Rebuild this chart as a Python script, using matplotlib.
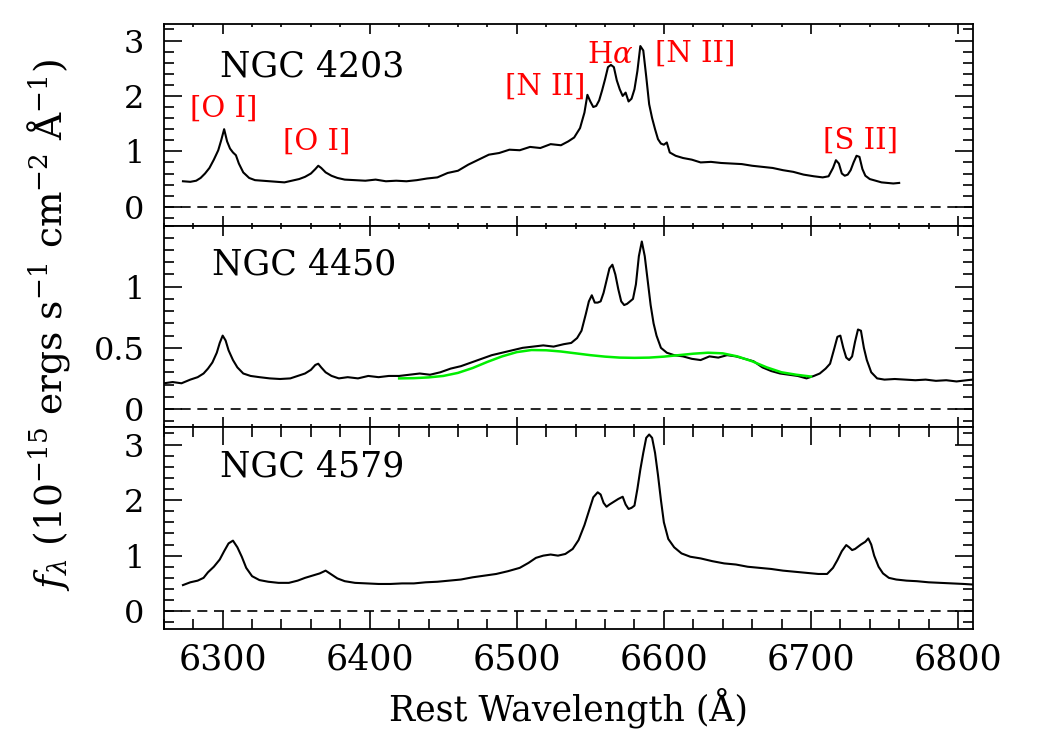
import matplotlib
matplotlib.use("Agg")
import matplotlib.pyplot as plt
from matplotlib.ticker import MultipleLocator, FixedLocator, FuncFormatter

plt.rcParams['font.family'] = 'DejaVu Serif'
plt.rcParams['mathtext.fontset'] = 'dejavuserif'

# NGC 4203 (top panel)
wl_4203 = [6273, 6278, 6282, 6285, 6288, 6291, 6294, 6297, 6299, 6301, 6303, 6305, 6307, 6309,
           6311, 6314, 6318, 6322, 6327, 6332, 6337, 6342, 6347, 6352, 6356, 6360, 6363, 6365,
           6367, 6370, 6374, 6378, 6383, 6390, 6397, 6404, 6411, 6418, 6425, 6432, 6439, 6446,
           6453, 6460, 6467, 6474, 6481, 6488, 6495, 6502, 6509, 6516, 6523, 6530, 6535, 6539,
           6543, 6546, 6548, 6550, 6552, 6554, 6556, 6558, 6560, 6562, 6564, 6566, 6568, 6570,
           6572, 6574, 6576, 6578, 6580, 6582, 6584, 6586, 6588, 6590, 6592, 6594, 6596, 6598,
           6600, 6602, 6604, 6608, 6613, 6619, 6625, 6632, 6639, 6646, 6653, 6660, 6667, 6674,
           6681, 6688, 6695, 6702, 6708, 6712, 6715, 6717, 6719, 6721, 6723, 6725, 6727, 6729,
           6731, 6733, 6735, 6737, 6740, 6744, 6748, 6752, 6756, 6760]
fx_4203 = [0.46, 0.45, 0.47, 0.52, 0.60, 0.70, 0.85, 1.02, 1.20, 1.40, 1.18, 1.05, 0.98, 0.93,
           0.78, 0.62, 0.52, 0.48, 0.47, 0.46, 0.45, 0.44, 0.47, 0.50, 0.54, 0.60, 0.68, 0.74,
           0.70, 0.62, 0.56, 0.52, 0.49, 0.48, 0.47, 0.49, 0.46, 0.47, 0.46, 0.48, 0.51, 0.53,
           0.61, 0.65, 0.76, 0.85, 0.94, 0.97, 1.03, 1.02, 1.08, 1.06, 1.13, 1.11, 1.18, 1.25,
           1.42, 1.70, 2.02, 1.90, 1.80, 1.82, 1.92, 2.10, 2.30, 2.52, 2.56, 2.52, 2.28, 2.12,
           2.00, 2.06, 1.90, 1.95, 2.12, 2.45, 2.90, 2.82, 2.35, 1.85, 1.60, 1.40, 1.22, 1.14,
           1.12, 1.16, 0.98, 0.92, 0.88, 0.85, 0.80, 0.81, 0.79, 0.78, 0.77, 0.74, 0.72, 0.70,
           0.66, 0.63, 0.58, 0.55, 0.53, 0.55, 0.70, 0.84, 0.78, 0.60, 0.56, 0.58, 0.66, 0.80,
           0.92, 0.90, 0.68, 0.56, 0.50, 0.47, 0.44, 0.43, 0.42, 0.43]

# NGC 4450 (middle panel)
wl_4450 = [6260, 6266, 6272, 6278, 6283, 6287, 6290, 6293, 6296, 6298, 6300, 6302, 6304, 6307,
           6310, 6314, 6319, 6325, 6332, 6339, 6346, 6351, 6356, 6360, 6363, 6365, 6367, 6370,
           6374, 6379, 6385, 6392, 6399, 6406, 6413, 6420, 6427, 6434, 6441, 6448, 6455, 6462,
           6469, 6476, 6483, 6490, 6497, 6504, 6511, 6518, 6525, 6532, 6537, 6541, 6544, 6547,
           6549, 6551, 6553, 6555, 6557, 6559, 6561, 6563, 6565, 6567, 6569, 6571, 6573, 6575,
           6577, 6579, 6581, 6583, 6585, 6587, 6589, 6591, 6593, 6595, 6598, 6602, 6607, 6613,
           6619, 6625, 6631, 6637, 6643, 6649, 6655, 6661, 6667, 6673, 6679, 6685, 6691, 6697,
           6702, 6706, 6710, 6713, 6716, 6718, 6720, 6722, 6724, 6726, 6728, 6730, 6732, 6734,
           6736, 6738, 6741, 6745, 6750, 6757, 6764, 6771, 6778, 6785, 6792, 6799, 6806, 6810]
fx_4450 = [0.21, 0.22, 0.21, 0.24, 0.26, 0.29, 0.33, 0.38, 0.46, 0.54, 0.60, 0.56, 0.48, 0.40,
           0.34, 0.29, 0.27, 0.26, 0.25, 0.245, 0.25, 0.27, 0.29, 0.32, 0.36, 0.37, 0.34, 0.30,
           0.27, 0.25, 0.26, 0.25, 0.27, 0.26, 0.27, 0.27, 0.28, 0.29, 0.28, 0.30, 0.33, 0.35,
           0.38, 0.41, 0.44, 0.46, 0.48, 0.50, 0.51, 0.52, 0.51, 0.53, 0.54, 0.58, 0.64, 0.78,
           0.88, 0.93, 0.87, 0.87, 0.88, 0.95, 1.05, 1.15, 1.18, 1.10, 0.98, 0.88, 0.85, 0.86,
           0.88, 0.90, 1.02, 1.25, 1.37, 1.25, 1.05, 0.85, 0.70, 0.60, 0.50, 0.46, 0.44, 0.43,
           0.41, 0.40, 0.43, 0.42, 0.44, 0.43, 0.41, 0.39, 0.34, 0.31, 0.29, 0.28, 0.27, 0.25,
           0.27, 0.29, 0.33, 0.37, 0.50, 0.59, 0.60, 0.50, 0.42, 0.40, 0.43, 0.55, 0.65, 0.64,
           0.50, 0.40, 0.30, 0.25, 0.24, 0.245, 0.24, 0.235, 0.24, 0.23, 0.235, 0.225, 0.235, 0.24]

# continuum fit for NGC 4450 (green)
wl_fit = [6420, 6430, 6440, 6450, 6460, 6470, 6480, 6490, 6500, 6510, 6520, 6530, 6540, 6550,
          6560, 6570, 6580, 6590, 6600, 6610, 6620, 6630, 6640, 6650, 6660, 6670, 6680, 6690, 6700]
fx_fit = [0.25, 0.252, 0.258, 0.27, 0.295, 0.335, 0.385, 0.43, 0.465, 0.482, 0.48, 0.47, 0.455, 0.44,
          0.428, 0.42, 0.418, 0.42, 0.428, 0.44, 0.452, 0.46, 0.455, 0.43, 0.39, 0.34, 0.30, 0.28, 0.265]

# NGC 4579 (bottom panel)
wl_4579 = [6273, 6278, 6283, 6287, 6290, 6294, 6298, 6301, 6304, 6307, 6310, 6313, 6316, 6320,
           6325, 6331, 6338, 6345, 6351, 6356, 6361, 6366, 6370, 6374, 6378, 6383, 6390, 6398,
           6406, 6414, 6422, 6430, 6438, 6446, 6454, 6462, 6470, 6478, 6486, 6494, 6502, 6508,
           6513, 6518, 6523, 6528, 6533, 6538, 6542, 6546, 6549, 6552, 6555, 6557, 6559, 6561,
           6563, 6566, 6569, 6572, 6574, 6576, 6578, 6580, 6582, 6584, 6586, 6588, 6590, 6592,
           6594, 6596, 6598, 6600, 6603, 6607, 6612, 6618, 6625, 6633, 6641, 6649, 6657, 6665,
           6673, 6681, 6689, 6697, 6705, 6711, 6715, 6718, 6721, 6724, 6726, 6728, 6730, 6732,
           6734, 6737, 6739, 6741, 6743, 6746, 6749, 6753, 6758, 6765, 6772, 6780, 6788, 6796,
           6804, 6810]
fx_4579 = [0.47, 0.52, 0.55, 0.60, 0.70, 0.80, 0.93, 1.08, 1.22, 1.27, 1.15, 0.98, 0.78, 0.63,
           0.56, 0.53, 0.51, 0.51, 0.55, 0.60, 0.64, 0.68, 0.73, 0.66, 0.59, 0.54, 0.51, 0.50,
           0.49, 0.49, 0.50, 0.50, 0.52, 0.53, 0.55, 0.57, 0.61, 0.64, 0.67, 0.72, 0.78, 0.87,
           0.96, 1.00, 1.02, 1.00, 1.03, 1.12, 1.28, 1.55, 1.80, 2.05, 2.14, 2.10, 1.95, 1.88,
           1.92, 1.97, 2.02, 2.06, 1.92, 1.84, 1.86, 1.90, 2.20, 2.55, 2.85, 3.12, 3.18, 3.12,
           2.85, 2.45, 2.00, 1.60, 1.30, 1.15, 1.04, 0.98, 0.95, 0.90, 0.86, 0.84, 0.80, 0.78,
           0.76, 0.73, 0.71, 0.69, 0.67, 0.67, 0.78, 0.92, 1.08, 1.19, 1.15, 1.10, 1.12, 1.16,
           1.20, 1.25, 1.31, 1.20, 1.00, 0.80, 0.68, 0.60, 0.57, 0.55, 0.54, 0.52, 0.51, 0.50,
           0.49, 0.48]

galaxies = ['NGC 4203', 'NGC 4450', 'NGC 4579']
line_names = ['[O I]', '[O I]', '[N II]', r'H$\alpha$', '[N II]', '[S II]']
line_x = [6278, 6341, 6492, 6548, 6594, 6708]
line_y = [1.63, 1.03, 2.02, 2.60, 2.62, 1.05]


def setup(ax, ylim, yticks, ymin, bottom):
    ax.set_xlim(6260, 6810)
    ax.set_ylim(*ylim)
    ax.axhline(0, color='black', ls=(0, (6, 4)), lw=1.2)
    ax.yaxis.set_major_locator(FixedLocator(yticks))
    ax.yaxis.set_minor_locator(MultipleLocator(ymin))
    ax.yaxis.set_major_formatter(FuncFormatter(lambda v, p: '%g' % v))
    if bottom:
        ax.xaxis.set_major_locator(MultipleLocator(100))
        ax.xaxis.set_minor_locator(MultipleLocator(20))
    else:
        ax.xaxis.set_major_locator(MultipleLocator(50))
        ax.xaxis.set_minor_locator(MultipleLocator(50))
    ax.tick_params(which='both', direction='in', top=True, right=True, width=1.2)
    ax.tick_params(axis='y', which='major', length=13, labelsize=23, pad=14)
    ax.tick_params(axis='y', which='minor', length=7)
    if bottom:
        ax.tick_params(axis='x', which='major', length=13, labelsize=25, pad=10)
        ax.tick_params(axis='x', which='minor', length=7)
    else:
        ax.tick_params(axis='x', which='major', length=7, labelbottom=False)
    for s in ax.spines.values():
        s.set_linewidth(1.3)


fig, axes = plt.subplots(3, 1, figsize=(10.37, 7.47), dpi=100, sharex=True)
fig.subplots_adjust(left=0.158, right=0.938, bottom=0.158, top=0.968, hspace=0)

ax1, ax2, ax3 = axes
setup(ax1, (-0.34, 3.3), [0, 1, 2, 3], 0.2, False)
setup(ax2, (-0.15, 1.5), [0, 0.5, 1], 0.1, False)
setup(ax3, (-0.32, 3.31), [0, 1, 2, 3], 0.2, True)

ax1.plot(wl_4203, fx_4203, color='black', lw=1.5)
ax2.plot(wl_4450, fx_4450, color='black', lw=1.5)
ax2.plot(wl_fit, fx_fit, color='#00ee00', lw=1.8)
ax3.plot(wl_4579, fx_4579, color='black', lw=1.5)

ax1.text(6298, 2.35, galaxies[0], fontsize=25)
ax2.text(6293, 1.10, galaxies[1], fontsize=25)
ax3.text(6298, 2.42, galaxies[2], fontsize=25)

for name, x, y in zip(line_names, line_x, line_y):
    ax1.text(x, y, name, color='red', fontsize=21)

ax3.set_xlabel('Rest Wavelength (Å)', fontsize=25, labelpad=8)
fig.text(0.047, 0.565, r'$f_\lambda$ (10$^{-15}$ ergs s$^{-1}$ cm$^{-2}$ Å$^{-1}$)',
         rotation=90, fontsize=27, ha='center', va='center')

fig.savefig('out.png', dpi=100)
